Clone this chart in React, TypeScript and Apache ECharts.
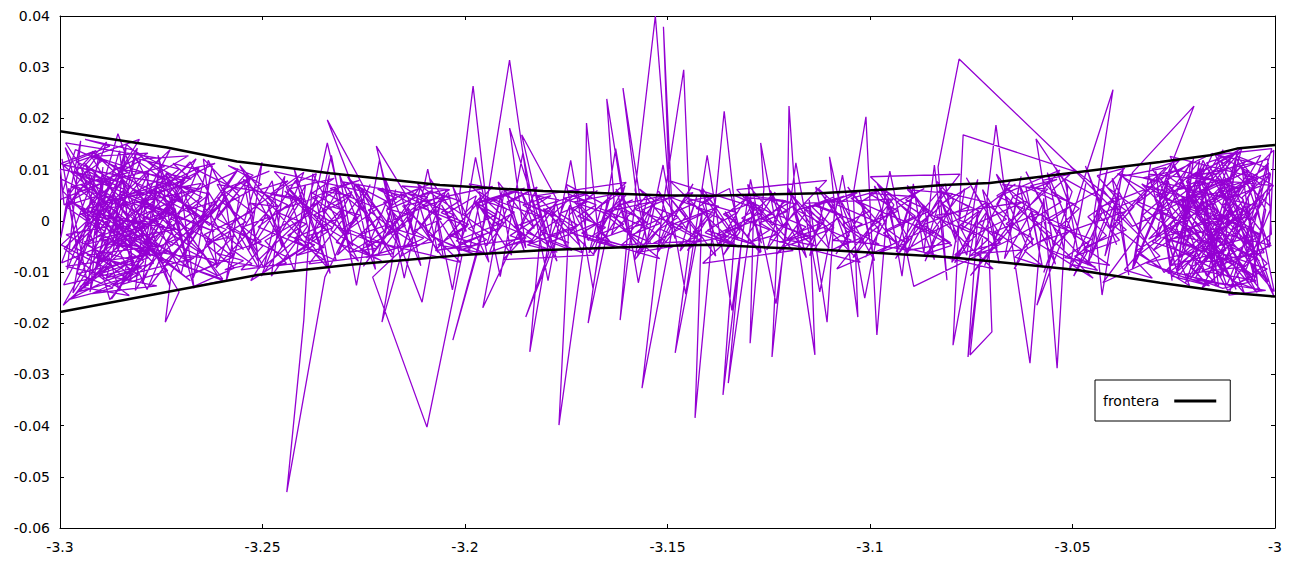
import React, { useEffect, useRef } from "react";
import * as echarts from "echarts";

// Axis ranges and ticks
const xMin = -3.3;
const xMax = -3.0;
const xStep = 0.05;
const yMin = -0.06;
const yMax = 0.04;
const yStep = 0.01;

// Boundary curves ("frontera")
const fronteraUpper: [number, number][] = [
  [-3.3, 0.0175], [-3.2736, 0.0143], [-3.2563, 0.0116], [-3.2333, 0.0093],
  [-3.2062, 0.0070], [-3.1807, 0.0058], [-3.1519, 0.0050], [-3.1395, 0.0049],
  [-3.1123, 0.0054], [-3.0943, 0.0062], [-3.0820, 0.0070], [-3.0704, 0.0074],
  [-3.0489, 0.0095], [-3.0284, 0.0115], [-3.0160, 0.0128], [-3.0094, 0.0141],
  [-3.0, 0.0148],
];
const fronteraLower: [number, number][] = [
  [-3.3, -0.0178], [-3.2736, -0.0139], [-3.2514, -0.0106], [-3.2284, -0.0086],
  [-3.2005, -0.0067], [-3.1798, -0.0057], [-3.1519, -0.0049], [-3.1395, -0.0047],
  [-3.1106, -0.0057], [-3.0802, -0.0071], [-3.0489, -0.0096], [-3.0284, -0.0121],
  [-3.0104, -0.0141], [-3.0, -0.0148],
];

// Trajectory, in the order it was traced
const segA: [number, number][] = [
  [-3.2995, 0.0121], [-3.2952, -0.0083], [-3.2981, 0.0047], [-3.2903, 0.0132], [-3.2968, -0.0141],
  [-3.2872, -0.0022], [-3.2934, 0.0098], [-3.2841, 0.0061], [-3.2990, -0.0054], [-3.2887, -0.0118],
  [-3.2809, 0.0142], [-3.2925, 0.0015], [-3.2776, -0.0069], [-3.2862, 0.0109], [-3.2958, -0.0102],
  [-3.2857, 0.0170], [-3.2793, 0.0033], [-3.2729, -0.0127], [-3.2847, 0.0084], [-3.2917, -0.0031],
  [-3.2754, 0.0122], [-3.2986, 0.0152], [-3.2826, -0.0047], [-3.2701, 0.0058], [-3.2873, -0.0153],
  [-3.2742, -0.0011], [-3.2949, 0.0071], [-3.2681, -0.0092], [-3.2815, 0.0128], [-3.2896, -0.0076],
  [-3.2712, 0.0039], [-3.2992, -0.0165], [-3.2858, 0.0025], [-3.2657, 0.0104], [-3.2785, -0.0134],
  [-3.2939, 0.0112], [-3.2724, -0.0049], [-3.2633, 0.0018], [-3.2836, 0.0149], [-3.2913, -0.0095],
  [-3.2691, 0.0087], [-3.2804, -0.0063], [-3.2970, 0.0036], [-3.2611, -0.0107], [-3.2758, 0.0065],
  [-3.2879, -0.0028], [-3.2664, 0.0121], [-3.2832, -0.0119], [-3.2587, 0.0044], [-3.2745, -0.0083],
  [-3.2955, 0.0093], [-3.2619, -0.0021], [-3.2851, 0.0052], [-3.2706, -0.0139], [-3.2740, -0.0198],
  [-3.2725, -0.0101], [-3.2563, 0.0097], [-3.2798, 0.0011], [-3.2642, -0.0068], [-3.2921, 0.0136],
  [-3.2735, 0.0028], [-3.2598, -0.0114], [-3.2866, -0.0042], [-3.2679, 0.0115], [-3.2547, -0.0056],
  [-3.2769, 0.0079], [-3.2631, -0.0009],
];
const segB: [number, number][] = [
  [-3.2528, 0.0087], [-3.2615, -0.0092], [-3.2472, 0.0031], [-3.2556, 0.0108], [-3.2431, -0.0074],
  [-3.2589, -0.0013], [-3.2398, 0.0095], [-3.2503, -0.0108], [-3.2364, 0.0046], [-3.2467, 0.0019],
  [-3.2340, -0.0091], [-3.2418, 0.0079], [-3.2522, -0.0047], [-3.2312, 0.0063], [-3.2398, -0.0058],
  [-3.2340, 0.0152], [-3.2287, -0.0026], [-3.2445, 0.0058], [-3.2263, -0.0079], [-3.2376, 0.0092],
  [-3.2398, -0.0194], [-3.2440, -0.0530], [-3.2346, -0.0110], [-3.2234, 0.0071], [-3.2315, -0.0067],
  [-3.2206, 0.0012], [-3.2290, 0.0086], [-3.2181, -0.0071], [-3.2265, 0.0041], [-3.2340, 0.0197],
  [-3.2238, 0.0049], [-3.2157, -0.0058], [-3.2219, 0.0146], [-3.2133, 0.0034], [-3.2251, -0.0089],
  [-3.2109, 0.0068], [-3.2205, -0.0198], [-3.2168, -0.0023], [-3.2082, 0.0059], [-3.2194, 0.0021],
  [-3.2106, -0.0159], [-3.2058, 0.0047], [-3.2142, -0.0046], [-3.2228, -0.0110], [-3.2094, -0.0403],
  [-3.2008, -0.0070], [-3.2117, 0.0072], [-3.2005, 0.0011],
];
const segC: [number, number][] = [
  [-3.2013, 0.0052], [-3.1980, 0.0263], [-3.1945, 0.0018], [-3.2030, -0.0233], [-3.1962, -0.0041],
  [-3.1890, 0.0314], [-3.1838, 0.0027], [-3.1956, -0.0170], [-3.1902, 0.0062], [-3.1850, -0.0053],
  [-3.1890, 0.0181], [-3.1812, -0.0009], [-3.1840, -0.0256], [-3.1775, 0.0044], [-3.1860, 0.0168],
  [-3.1793, -0.0062], [-3.1850, -0.0188], [-3.1741, 0.0031], [-3.1768, -0.0399], [-3.1703, -0.0028],
  [-3.1700, 0.0191], [-3.1668, -0.0047], [-3.1696, -0.0200], [-3.1632, 0.0039], [-3.1650, 0.0238],
  [-3.1598, -0.0018], [-3.1617, -0.0194], [-3.1577, 0.0053], [-3.1610, 0.0259], [-3.1552, -0.0036],
  [-3.1580, 0.0060], [-3.1530, 0.0400], [-3.1495, 0.0048], [-3.1510, 0.0379], [-3.1487, -0.0012],
  [-3.1563, -0.0327], [-3.1512, 0.0024], [-3.1460, 0.0295], [-3.1443, -0.0031], [-3.1481, -0.0258],
  [-3.1415, 0.0015], [-3.1432, -0.0385], [-3.1389, -0.0021],
];
const segD: [number, number][] = [
  [-3.1360, 0.0214], [-3.1331, 0.0008], [-3.1363, -0.0340], [-3.1318, -0.0044], [-3.1350, -0.0317],
  [-3.1287, 0.0037], [-3.1296, -0.0239], [-3.1262, 0.0062], [-3.1270, 0.0152], [-3.1228, -0.0025],
  [-3.1242, -0.0266], [-3.1204, 0.0019], [-3.1200, 0.0224], [-3.1176, -0.0051], [-3.1136, -0.0262],
  [-3.1150, 0.0041], [-3.1106, -0.0198], [-3.1087, 0.0028], [-3.1100, 0.0125], [-3.1055, -0.0039],
  [-3.1030, -0.0188], [-3.1041, 0.0054], [-3.1010, 0.0203], [-3.0997, -0.0017], [-3.0983, -0.0223],
  [-3.0955, 0.0046], [-3.0921, -0.0108], [-3.0893, 0.0072], [-3.0867, -0.0062], [-3.0841, 0.0109],
  [-3.0810, -0.0116], [-3.0832, 0.0105], [-3.0780, 0.0316], [-3.0489, 0.0095], [-3.0770, 0.0168],
  [-3.0795, -0.0243], [-3.0733, 0.0021], [-3.0758, -0.0266], [-3.0722, -0.0034], [-3.0753, -0.0262],
  [-3.0699, -0.0217], [-3.0711, 0.0043],
];
const segE: [number, number][] = [
  [-3.0689, 0.0187], [-3.0652, -0.0031], [-3.0605, -0.0278], [-3.0571, 0.0044], [-3.0538, -0.0288],
  [-3.0512, 0.0067], [-3.0590, 0.0160], [-3.0547, -0.0052], [-3.0588, -0.0165], [-3.0493, 0.0029],
  [-3.0400, 0.0256], [-3.0447, 0.0012], [-3.0427, -0.0145], [-3.0381, 0.0078], [-3.0420, -0.0069],
  [-3.0352, 0.0094], [-3.0200, 0.0224], [-3.0286, 0.0049],
];
const segF: [number, number][] = [
  [-3.0258, -0.0082], [-3.0173, 0.0111], [-3.0231, 0.0026], [-3.0127, -0.0104], [-3.0196, 0.0089],
  [-3.0062, -0.0031], [-3.0149, 0.0132], [-3.0008, 0.0071], [-3.0214, -0.0118], [-3.0093, 0.0015],
  [-3.0176, -0.0061], [-3.0035, 0.0128], [-3.0251, 0.0058], [-3.0117, -0.0136], [-3.0019, -0.0084],
  [-3.0162, 0.0037], [-3.0071, 0.0117], [-3.0228, -0.0009], [-3.0044, -0.0112], [-3.0139, 0.0074],
  [-3.0003, -0.0147], [-3.0081, 0.0046],
];
const sweepBack: [number, number][] = [
  [-3.0011, 0.0092], [-3.0058, -0.0118], [-3.0023, 0.0021], [-3.0097, 0.0124], [-3.0152, -0.0073],
  [-3.0076, -0.0141], [-3.0189, 0.0104], [-3.0133, 0.0008], [-3.0241, -0.0096], [-3.0208, 0.0117],
  [-3.0296, -0.0039], [-3.0263, 0.0078], [-3.0352, -0.0094], [-3.0319, 0.0061], [-3.0408, -0.0016],
  [-3.0375, 0.0099], [-3.0463, -0.0087], [-3.0431, 0.0043], [-3.0519, 0.0082], [-3.0486, -0.0064],
  [-3.0575, 0.0013], [-3.0542, -0.0085], [-3.0631, 0.0071], [-3.0598, -0.0047], [-3.0687, 0.0032],
  [-3.0654, 0.0078], [-3.0743, -0.0059], [-3.0709, 0.0021], [-3.0798, -0.0081], [-3.0766, 0.0063],
  [-3.0854, -0.0028], [-3.0821, 0.0057], [-3.0910, -0.0066], [-3.0877, 0.0014], [-3.0966, 0.0061],
  [-3.0933, -0.0045], [-3.1022, 0.0036], [-3.0989, -0.0078], [-3.1078, 0.0048], [-3.1045, -0.0019],
  [-3.1134, 0.0066], [-3.1101, -0.0054], [-3.1190, 0.0027], [-3.1157, -0.0072], [-3.1246, 0.0059],
  [-3.1213, -0.0013], [-3.1302, 0.0071], [-3.1269, -0.0061], [-3.1358, 0.0018], [-3.1325, -0.0038],
  [-3.1414, 0.0064], [-3.1381, -0.0069], [-3.1470, 0.0029], [-3.1437, 0.0072], [-3.1526, -0.0055],
  [-3.1493, 0.0011], [-3.1582, -0.0077], [-3.1549, 0.0051], [-3.1638, -0.0026], [-3.1605, 0.0069],
  [-3.1694, -0.0063], [-3.1661, 0.0034], [-3.1750, 0.0071], [-3.1717, -0.0048], [-3.1806, 0.0024],
  [-3.1773, -0.0079], [-3.1862, 0.0058], [-3.1829, -0.0015], [-3.1918, 0.0076], [-3.1885, -0.0067],
  [-3.1974, 0.0039], [-3.1941, -0.0081], [-3.2030, 0.0067], [-3.1997, -0.0021], [-3.2086, 0.0082],
  [-3.2053, -0.0074], [-3.2142, 0.0027], [-3.2109, -0.0088], [-3.2198, 0.0084], [-3.2165, -0.0032],
  [-3.2254, 0.0063], [-3.2221, -0.0095], [-3.2310, 0.0091], [-3.2277, -0.0049], [-3.2366, 0.0038],
  [-3.2333, -0.0103], [-3.2422, 0.0102], [-3.2389, -0.0011], [-3.2478, -0.0108], [-3.2445, 0.0087],
  [-3.2534, -0.0057], [-3.2501, 0.0114], [-3.2590, -0.0119], [-3.2557, 0.0048], [-3.2646, 0.0121],
  [-3.2613, -0.0086], [-3.2702, 0.0067], [-3.2669, -0.0132], [-3.2758, 0.0128], [-3.2725, -0.0024],
  [-3.2814, -0.0136], [-3.2781, 0.0094], [-3.2870, -0.0049], [-3.2837, 0.0141], [-3.2926, -0.0139],
  [-3.2893, 0.0077], [-3.2982, -0.0095], [-3.2949, 0.0156], [-3.2998, -0.0033],
];
const sweepForward: [number, number][] = [
  [-3.2978, 0.0064], [-3.2931, -0.0127], [-3.2894, 0.0105], [-3.2912, -0.0018], [-3.2853, 0.0137],
  [-3.2819, -0.0096], [-3.2867, 0.0042], [-3.2788, -0.0041], [-3.2752, 0.0113], [-3.2797, -0.0123],
  [-3.2716, 0.0024], [-3.2683, -0.0088], [-3.2739, 0.0091], [-3.2655, -0.0017], [-3.2624, 0.0107],
  [-3.2671, -0.0112], [-3.2593, 0.0052], [-3.2571, -0.0071], [-3.2628, 0.0013], [-3.2539, 0.0093],
  [-3.2508, -0.0094], [-3.2557, -0.0028], [-3.2476, 0.0078], [-3.2452, -0.0051], [-3.2489, 0.0036],
  [-3.2421, -0.0098], [-3.2394, 0.0069], [-3.2437, 0.0008], [-3.2362, -0.0063], [-3.2335, 0.0089],
  [-3.2378, -0.0037], [-3.2306, 0.0021], [-3.2279, -0.0082], [-3.2321, 0.0064], [-3.2248, 0.0017],
  [-3.2226, -0.0059], [-3.2264, 0.0072], [-3.2197, -0.0024], [-3.2171, 0.0061], [-3.2215, -0.0068],
  [-3.2143, 0.0008], [-3.2118, -0.0049], [-3.2159, 0.0053], [-3.2092, 0.0027], [-3.2067, -0.0062],
  [-3.2104, -0.0007], [-3.2041, 0.0055], [-3.2016, -0.0033], [-3.2058, 0.0031], [-3.1989, -0.0058],
  [-3.1962, 0.0046], [-3.2004, 0.0012], [-3.1935, -0.0027], [-3.1908, 0.0058], [-3.1947, -0.0049],
  [-3.1881, 0.0019], [-3.1853, -0.0061], [-3.1896, 0.0037], [-3.1827, 0.0064], [-3.1801, -0.0022],
  [-3.1842, -0.0046], [-3.1774, 0.0033], [-3.1748, -0.0054], [-3.1786, 0.0011], [-3.1722, 0.0057],
  [-3.1695, -0.0039], [-3.1737, 0.0026], [-3.1668, -0.0012], [-3.1641, 0.0048], [-3.1683, -0.0066],
  [-3.1614, 0.0019], [-3.1588, -0.0043], [-3.1627, 0.0062], [-3.1561, -0.0008], [-3.1534, 0.0039],
  [-3.1575, -0.0071], [-3.1507, 0.0024], [-3.1481, -0.0035], [-3.1522, 0.0058], [-3.1454, -0.0015],
  [-3.1428, 0.0047], [-3.1469, -0.0059], [-3.1401, 0.0011], [-3.1374, -0.0048], [-3.1415, 0.0036],
  [-3.1347, 0.0063], [-3.1321, -0.0021], [-3.1362, -0.0067], [-3.1294, 0.0028], [-3.1268, -0.0044],
  [-3.1309, 0.0052], [-3.1241, -0.0009], [-3.1214, 0.0041], [-3.1255, -0.0057], [-3.1187, 0.0017],
  [-3.1161, -0.0036], [-3.1202, 0.0064], [-3.1134, -0.0024], [-3.1108, 0.0049], [-3.1149, -0.0068],
  [-3.1081, 0.0006], [-3.1054, -0.0052], [-3.1095, 0.0037], [-3.1027, 0.0059], [-3.1001, -0.0031],
  [-3.1042, -0.0072], [-3.0974, 0.0022], [-3.0948, -0.0047], [-3.0989, 0.0068], [-3.0921, -0.0013],
  [-3.0894, 0.0054], [-3.0935, -0.0061], [-3.0867, 0.0031], [-3.0841, -0.0076], [-3.0882, 0.0009],
  [-3.0814, 0.0072], [-3.0787, -0.0042], [-3.0828, 0.0046], [-3.0761, -0.0067], [-3.0734, 0.0081],
  [-3.0775, -0.0019], [-3.0707, 0.0035], [-3.0681, -0.0083], [-3.0722, 0.0061], [-3.0654, -0.0028],
  [-3.0627, 0.0087], [-3.0668, -0.0074], [-3.0601, 0.0019], [-3.0574, -0.0091], [-3.0615, 0.0066],
  [-3.0547, 0.0041], [-3.0521, -0.0058], [-3.0562, 0.0094], [-3.0494, -0.0036], [-3.0467, 0.0073],
  [-3.0508, -0.0097], [-3.0441, 0.0012], [-3.0414, 0.0101], [-3.0455, -0.0072], [-3.0387, 0.0048],
  [-3.0361, -0.0106], [-3.0402, 0.0083], [-3.0334, -0.0023], [-3.0307, 0.0112], [-3.0348, -0.0089],
  [-3.0281, 0.0035], [-3.0254, -0.0117], [-3.0295, 0.0097], [-3.0227, -0.0047], [-3.0201, 0.0124],
  [-3.0242, -0.0101], [-3.0174, 0.0058], [-3.0147, -0.0128], [-3.0188, 0.0082], [-3.0121, -0.0016],
  [-3.0094, 0.0133], [-3.0135, -0.0112], [-3.0067, 0.0047], [-3.0041, -0.0137], [-3.0082, 0.0106],
  [-3.0014, -0.0052], [-3.0003, 0.0138],
];
const segF2: [number, number][] = [
  [-3.0031, 0.0116], [-3.0112, -0.0043], [-3.0064, -0.0121], [-3.0187, 0.0067], [-3.0128, 0.0139],
  [-3.0236, -0.0072], [-3.0046, 0.0029], [-3.0169, -0.0108], [-3.0271, 0.0091], [-3.0088, -0.0012],
  [-3.0205, 0.0043], [-3.0017, -0.0119], [-3.0144, 0.0102], [-3.0312, -0.0036], [-3.0073, 0.0068],
  [-3.0221, -0.0121], [-3.0109, 0.0123], [-3.0287, 0.0018], [-3.0038, -0.0078], [-3.0158, -0.0024],
  [-3.0251, 0.0107], [-3.0096, -0.0134], [-3.0193, 0.0028], [-3.0012, 0.0094], [-3.0133, -0.0089],
  [-3.0329, 0.0072], [-3.0061, -0.0047], [-3.0178, 0.0118], [-3.0264, -0.0103], [-3.0027, 0.0052],
  [-3.0119, -0.0126], [-3.0216, 0.0083], [-3.0084, 0.0136], [-3.0301, -0.0058], [-3.0153, 0.0011],
  [-3.0044, -0.0141], [-3.0240, 0.0039], [-3.0106, 0.0087], [-3.0352, -0.0011], [-3.0427, 0.0063],
  [-3.0650, -0.0035],
];
const segJ: [number, number][] = [
  [-3.0892, -0.0128], [-3.0951, 0.0097], [-3.1013, -0.0151], [-3.1068, 0.0089], [-3.1124, -0.0139],
  [-3.1183, 0.0113], [-3.1232, -0.0162], [-3.1295, 0.0081], [-3.1341, -0.0175], [-3.1402, 0.0128],
  [-3.1455, -0.0143], [-3.1511, 0.0109], [-3.1572, -0.0121], [-3.1628, 0.0141], [-3.1684, -0.0132],
  [-3.1739, 0.0118], [-3.1795, -0.0117], [-3.1857, 0.0133], [-3.1913, -0.0109], [-3.1974, 0.0124],
  [-3.2031, -0.0135], [-3.2092, 0.0101], [-3.2150, -0.0112], [-3.2211, 0.0119], [-3.2268, -0.0126],
  [-3.2330, 0.0128], [-3.2355, 0.0041],
];
const segA2: [number, number][] = [
  [-3.2512, -0.0078], [-3.2634, 0.0118], [-3.2701, -0.0104], [-3.2789, 0.0047], [-3.2853, -0.0137],
  [-3.2947, 0.0101], [-3.2885, 0.0154], [-3.2996, -0.0082], [-3.2812, -0.0021], [-3.2924, 0.0128],
  [-3.2744, 0.0082], [-3.2968, -0.0149], [-3.2861, -0.0063], [-3.2728, 0.0139], [-3.2897, 0.0012],
  [-3.2678, -0.0117], [-3.2953, 0.0062], [-3.2836, 0.0111], [-3.2991, -0.0125], [-3.2769, -0.0083],
  [-3.2905, 0.0036], [-3.2651, 0.0073], [-3.2877, -0.0154], [-3.2987, 0.0143], [-3.2822, -0.0108],
  [-3.2940, -0.0041], [-3.2717, 0.0024], [-3.2959, 0.0115], [-3.2804, 0.0159], [-3.2974, -0.0061],
  [-3.2848, 0.0075], [-3.2999, 0.0101],
];
const sweepWide: [number, number][] = [
  [-3.2990, 0.0031], [-3.2801, 0.0118], [-3.2917, -0.0106], [-3.2702, -0.0032], [-3.2855, 0.0089],
  [-3.2638, 0.0014], [-3.2779, -0.0128], [-3.2560, 0.0102], [-3.2698, -0.0066], [-3.2497, -0.0091],
  [-3.2612, 0.0071], [-3.2403, 0.0043], [-3.2529, -0.0117], [-3.2338, -0.0021], [-3.2471, 0.0096],
  [-3.2249, 0.0057], [-3.2385, -0.0084], [-3.2178, -0.0064], [-3.2301, 0.0076], [-3.2092, 0.0046],
  [-3.2233, -0.0039], [-3.2011, -0.0081], [-3.2154, 0.0029], [-3.1932, 0.0067], [-3.2073, -0.0058],
  [-3.1849, -0.0034], [-3.1990, 0.0072], [-3.1768, 0.0041], [-3.1906, -0.0076], [-3.1681, -0.0067],
  [-3.1822, 0.0049], [-3.1602, 0.0075], [-3.1741, -0.0023], [-3.1519, -0.0074], [-3.1660, 0.0016],
  [-3.1437, 0.0055], [-3.1577, -0.0062], [-3.1352, -0.0031], [-3.1494, 0.0078], [-3.1271, 0.0023],
  [-3.1413, -0.0083], [-3.1190, -0.0058], [-3.1329, 0.0061], [-3.1107, 0.0079], [-3.1248, -0.0036],
  [-3.1024, -0.0081], [-3.1164, 0.0034], [-3.0943, 0.0043], [-3.1082, -0.0094], [-3.0861, -0.0017],
  [-3.0999, 0.0086], [-3.0778, 0.0091], [-3.0917, -0.0052], [-3.0696, -0.0094], [-3.0836, 0.0011],
  [-3.0612, 0.0038], [-3.0752, -0.0107], [-3.0531, 0.0099], [-3.0670, 0.0052], [-3.0449, -0.0112],
  [-3.0588, -0.0043], [-3.0367, 0.0019], [-3.0506, 0.0107], [-3.0284, -0.0069], [-3.0425, -0.0121],
  [-3.0203, 0.0117], [-3.0342, 0.0034], [-3.0121, -0.0097], [-3.0259, 0.0126], [-3.0042, 0.0083],
  [-3.0180, -0.0131], [-3.0009, -0.0026],
];
const segF3: [number, number][] = [
  [-3.0018, 0.0121], [-3.0084, 0.0102], [-3.0032, 0.0069], [-3.0116, 0.0043], [-3.0061, 0.0011],
  [-3.0153, -0.0021], [-3.0009, -0.0048], [-3.0097, -0.0076], [-3.0181, -0.0098], [-3.0047, -0.0117],
  [-3.0129, -0.0132], [-3.0223, -0.0104], [-3.0072, -0.0089], [-3.0168, -0.0061], [-3.0263, -0.0037],
  [-3.0112, -0.0009], [-3.0206, 0.0022], [-3.0294, 0.0051], [-3.0141, 0.0078], [-3.0239, 0.0099],
  [-3.0327, 0.0084], [-3.0186, 0.0057], [-3.0058, 0.0031], [-3.0172, -0.0004], [-3.0278, -0.0033],
  [-3.0124, -0.0066], [-3.0019, -0.0094], [-3.0104, -0.0127], [-3.0217, -0.0113], [-3.0318, -0.0082],
  [-3.0157, -0.0053], [-3.0036, -0.0026], [-3.0135, 0.0008], [-3.0249, 0.0037], [-3.0089, 0.0064],
  [-3.0196, 0.0088], [-3.0052, 0.0113], [-3.0147, 0.0129], [-3.0008, 0.0141], [-3.0114, -0.0145],
  [-3.0023, -0.0136], [-3.0167, -0.0118], [-3.0286, -0.0092], [-3.0341, -0.0058],
];
const walkBack: [number, number][] = [
  [-3.0021, 0.0104], [-3.0093, 0.0126], [-3.0052, 0.0083], [-3.0138, 0.0061], [-3.0087, 0.0022],
  [-3.0176, -0.0013], [-3.0121, -0.0054], [-3.0209, -0.0091], [-3.0162, -0.0127], [-3.0254, -0.0108],
  [-3.0198, -0.0069], [-3.0303, -0.0041], [-3.0245, 0.0006], [-3.0341, 0.0038], [-3.0287, 0.0079],
  [-3.0389, 0.0092], [-3.0322, 0.0061], [-3.0431, 0.0027], [-3.0367, -0.0018], [-3.0472, -0.0052],
  [-3.0408, -0.0087], [-3.0519, -0.0072], [-3.0453, -0.0036], [-3.0561, -0.0004], [-3.0497, 0.0033],
  [-3.0604, 0.0068], [-3.0538, 0.0081], [-3.0649, 0.0047], [-3.0583, 0.0015], [-3.0692, -0.0021],
  [-3.0624, -0.0057], [-3.0738, -0.0064], [-3.0669, -0.0031], [-3.0781, 0.0002], [-3.0712, 0.0036],
  [-3.0827, 0.0058], [-3.0756, 0.0027], [-3.0869, -0.0008], [-3.0801, -0.0043], [-3.0915, -0.0059],
  [-3.0843, -0.0024], [-3.0958, 0.0013], [-3.0889, 0.0047], [-3.1003, 0.0054], [-3.0931, 0.0019],
  [-3.1046, -0.0017], [-3.0977, -0.0046], [-3.1092, -0.0038], [-3.1019, -0.0006], [-3.1135, 0.0029],
  [-3.1064, 0.0048], [-3.1181, 0.0021], [-3.1107, -0.0011], [-3.1224, -0.0042], [-3.1152, -0.0029],
  [-3.1269, 0.0004], [-3.1196, 0.0037], [-3.1313, 0.0046], [-3.1241, 0.0013], [-3.1358, -0.0021],
  [-3.1284, -0.0047], [-3.1402, -0.0019], [-3.1329, 0.0016], [-3.1446, 0.0043], [-3.1373, 0.0028],
  [-3.1491, -0.0008], [-3.1417, -0.0039], [-3.1535, -0.0044], [-3.1462, -0.0012], [-3.1579, 0.0022],
  [-3.1506, 0.0049], [-3.1624, 0.0031], [-3.1551, -0.0003], [-3.1668, -0.0036], [-3.1594, -0.0052],
  [-3.1712, -0.0024], [-3.1639, 0.0011], [-3.1757, 0.0044], [-3.1683, 0.0057], [-3.1801, 0.0023],
  [-3.1727, -0.0014], [-3.1846, -0.0047], [-3.1772, -0.0061], [-3.1889, -0.0029], [-3.1816, 0.0008],
  [-3.1934, 0.0043], [-3.1861, 0.0062], [-3.1978, 0.0034], [-3.1905, -0.0003], [-3.2022, -0.0039],
  [-3.1949, -0.0064], [-3.2067, -0.0047], [-3.1994, -0.0011], [-3.2111, 0.0027], [-3.2038, 0.0061],
  [-3.2156, 0.0068], [-3.2083, 0.0033], [-3.2199, -0.0006], [-3.2127, -0.0043], [-3.2244, -0.0072],
  [-3.2172, -0.0054], [-3.2288, -0.0017], [-3.2216, 0.0024], [-3.2333, 0.0063], [-3.2261, 0.0079],
  [-3.2377, 0.0046], [-3.2305, 0.0007], [-3.2422, -0.0034], [-3.2349, -0.0076], [-3.2466, -0.0088],
  [-3.2394, -0.0051], [-3.2511, -0.0012], [-3.2438, 0.0031], [-3.2555, 0.0074], [-3.2483, 0.0097],
  [-3.2599, 0.0061], [-3.2527, 0.0018], [-3.2644, -0.0027], [-3.2572, -0.0071], [-3.2688, -0.0109],
  [-3.2616, -0.0084], [-3.2733, -0.0039], [-3.2661, 0.0008], [-3.2777, 0.0057], [-3.2705, 0.0101],
  [-3.2822, 0.0124], [-3.2749, 0.0083], [-3.2866, 0.0036], [-3.2794, -0.0013], [-3.2911, -0.0066],
  [-3.2838, -0.0112], [-3.2955, -0.0139], [-3.2883, -0.0094], [-3.2997, -0.0047], [-3.2927, 0.0004],
  [-3.2993, 0.0058],
];
const segA3: [number, number][] = [
  [-3.2962, 0.0139], [-3.2897, 0.0117], [-3.2948, 0.0086], [-3.2871, 0.0072], [-3.2929, 0.0028],
  [-3.2846, -0.0006], [-3.2985, -0.0027], [-3.2905, -0.0059], [-3.2817, -0.0078], [-3.2958, -0.0103],
  [-3.2869, -0.0131], [-3.2979, -0.0154], [-3.2892, -0.0119], [-3.2798, -0.0092], [-3.2934, -0.0067],
  [-3.2755, -0.0049], [-3.2881, -0.0019], [-3.2726, 0.0011], [-3.2859, 0.0043], [-3.2974, 0.0066],
  [-3.2831, 0.0094], [-3.2917, 0.0126], [-3.2783, 0.0132], [-3.2858, 0.0102], [-3.2691, 0.0079],
  [-3.2812, 0.0051], [-3.2946, 0.0021], [-3.2774, -0.0008], [-3.2903, -0.0036], [-3.2735, -0.0061],
  [-3.2986, -0.0089], [-3.2845, -0.0114], [-3.2761, -0.0127], [-3.2921, -0.0142], [-3.2809, -0.0101],
  [-3.2669, -0.0073], [-3.2887, -0.0044], [-3.2713, -0.0016], [-3.2952, 0.0013], [-3.2796, 0.0038],
  [-3.2655, 0.0062], [-3.2843, 0.0087], [-3.2991, 0.0109], [-3.2877, 0.0146], [-3.2938, 0.0159],
  [-3.2823, 0.0139], [-3.2742, 0.0106], [-3.2897, 0.0074], [-3.2998, 0.0042],
];
const walkForward: [number, number][] = [
  [-3.2998, 0.0082], [-3.2951, 0.0064], [-3.2979, 0.0031], [-3.2912, 0.0047], [-3.2946, 0.0012],
  [-3.2889, -0.0021], [-3.2937, -0.0046], [-3.2868, -0.0033], [-3.2903, -0.0071], [-3.2841, -0.0088],
  [-3.2886, -0.0112], [-3.2822, -0.0097], [-3.2871, -0.0128], [-3.2806, -0.0106], [-3.2849, -0.0081],
  [-3.2779, -0.0064], [-3.2826, -0.0037], [-3.2761, -0.0052], [-3.2803, -0.0018], [-3.2744, 0.0007],
  [-3.2792, 0.0029], [-3.2719, 0.0018], [-3.2758, 0.0054], [-3.2697, 0.0071], [-3.2739, 0.0093],
  [-3.2676, 0.0081], [-3.2721, 0.0112], [-3.2653, 0.0098], [-3.2704, 0.0067], [-3.2631, 0.0052],
  [-3.2677, 0.0023], [-3.2612, 0.0039], [-3.2658, 0.0004], [-3.2589, -0.0017], [-3.2636, -0.0042],
  [-3.2568, -0.0029], [-3.2614, -0.0063], [-3.2547, -0.0078], [-3.2593, -0.0096], [-3.2526, -0.0084],
  [-3.2571, -0.0059], [-3.2503, -0.0041], [-3.2548, -0.0012], [-3.2481, 0.0008], [-3.2527, 0.0034],
  [-3.2459, 0.0027], [-3.2506, 0.0061], [-3.2437, 0.0078], [-3.2481, 0.0052], [-3.2414, 0.0041],
  [-3.2462, 0.0016], [-3.2392, -0.0006], [-3.2438, -0.0029], [-3.2371, -0.0047], [-3.2417, -0.0068],
  [-3.2348, -0.0052], [-3.2394, -0.0031], [-3.2326, -0.0014], [-3.2372, 0.0012], [-3.2303, 0.0036],
  [-3.2351, 0.0058], [-3.2281, 0.0049], [-3.2327, 0.0027], [-3.2259, 0.0011], [-3.2306, -0.0018],
  [-3.2237, -0.0039], [-3.2283, -0.0061], [-3.2214, -0.0053], [-3.2261, -0.0027], [-3.2192, -0.0008],
  [-3.2239, 0.0021], [-3.2169, 0.0043], [-3.2216, 0.0062], [-3.2147, 0.0047], [-3.2193, 0.0024],
  [-3.2125, 0.0009], [-3.2172, -0.0016], [-3.2102, -0.0034], [-3.2148, -0.0052], [-3.2081, -0.0041],
  [-3.2126, -0.0019], [-3.2058, 0.0003], [-3.2104, 0.0028], [-3.2036, 0.0044], [-3.2082, 0.0057],
  [-3.2013, 0.0039], [-3.2059, 0.0016], [-3.1991, -0.0007], [-3.2037, -0.0029], [-3.1968, -0.0046],
  [-3.2014, -0.0058], [-3.1946, -0.0037], [-3.1992, -0.0015], [-3.1923, 0.0012], [-3.1969, 0.0034],
  [-3.1901, 0.0051], [-3.1947, 0.0038], [-3.1878, 0.0017], [-3.1924, -0.0004], [-3.1856, -0.0026],
  [-3.1902, -0.0049], [-3.1833, -0.0038], [-3.1879, -0.0012], [-3.1811, 0.0008], [-3.1857, 0.0031],
  [-3.1788, 0.0049], [-3.1834, 0.0027], [-3.1766, 0.0006], [-3.1812, -0.0021], [-3.1743, -0.0043],
  [-3.1789, -0.0028], [-3.1721, -0.0009], [-3.1767, 0.0014], [-3.1698, 0.0037], [-3.1744, 0.0052],
  [-3.1676, 0.0031], [-3.1722, 0.0009], [-3.1653, -0.0013], [-3.1699, -0.0036], [-3.1631, -0.0051],
  [-3.1677, -0.0029], [-3.1608, -0.0007], [-3.1654, 0.0018], [-3.1586, 0.0041], [-3.1632, 0.0026],
  [-3.1563, 0.0004], [-3.1609, -0.0019], [-3.1541, -0.0042], [-3.1587, -0.0027], [-3.1518, -0.0005],
  [-3.1564, 0.0021], [-3.1496, 0.0044], [-3.1542, 0.0029], [-3.1473, 0.0007], [-3.1519, -0.0016],
  [-3.1451, -0.0039], [-3.1497, -0.0054], [-3.1428, -0.0031], [-3.1474, -0.0009], [-3.1406, 0.0016],
  [-3.1452, 0.0038], [-3.1383, 0.0049], [-3.1429, 0.0024], [-3.1361, 0.0002], [-3.1407, -0.0023],
  [-3.1338, -0.0045], [-3.1384, -0.0032], [-3.1316, -0.0011], [-3.1362, 0.0013], [-3.1293, 0.0035],
  [-3.1339, 0.0051], [-3.1271, 0.0028], [-3.1317, 0.0005], [-3.1248, -0.0018], [-3.1294, -0.0041],
  [-3.1226, -0.0026], [-3.1272, -0.0004], [-3.1203, 0.0019], [-3.1249, 0.0042], [-3.1181, 0.0033],
  [-3.1227, 0.0011], [-3.1158, -0.0012], [-3.1204, -0.0037], [-3.1136, -0.0049], [-3.1182, -0.0024],
  [-3.1113, -0.0002], [-3.1159, 0.0023], [-3.1091, 0.0046], [-3.1137, 0.0032], [-3.1068, 0.0011],
  [-3.1114, -0.0014], [-3.1046, -0.0038], [-3.1092, -0.0056], [-3.1023, -0.0034], [-3.1069, -0.0008],
  [-3.1001, 0.0019], [-3.1047, 0.0044], [-3.0978, 0.0059], [-3.1024, 0.0036], [-3.0956, 0.0012],
  [-3.1002, -0.0015], [-3.0933, -0.0041], [-3.0979, -0.0062], [-3.0911, -0.0044], [-3.0957, -0.0017],
  [-3.0888, 0.0009], [-3.0934, 0.0037], [-3.0866, 0.0063], [-3.0912, 0.0041], [-3.0843, 0.0016],
  [-3.0889, -0.0011], [-3.0821, -0.0039], [-3.0867, -0.0066], [-3.0798, -0.0048], [-3.0844, -0.0021],
  [-3.0776, 0.0006], [-3.0822, 0.0034], [-3.0753, 0.0067], [-3.0799, 0.0045], [-3.0731, 0.0019],
  [-3.0777, -0.0008], [-3.0708, -0.0036], [-3.0754, -0.0069], [-3.0686, -0.0052], [-3.0732, -0.0024],
  [-3.0663, 0.0003], [-3.0709, 0.0031], [-3.0641, 0.0072], [-3.0687, 0.0049], [-3.0618, 0.0022],
  [-3.0664, -0.0006], [-3.0596, -0.0035], [-3.0642, -0.0071], [-3.0573, -0.0089], [-3.0619, -0.0058],
  [-3.0551, -0.0027], [-3.0597, 0.0004], [-3.0528, 0.0037], [-3.0574, 0.0079], [-3.0506, 0.0091],
  [-3.0552, 0.0058], [-3.0483, 0.0024], [-3.0529, -0.0009], [-3.0461, -0.0046], [-3.0507, -0.0084],
  [-3.0438, -0.0097], [-3.0484, -0.0063], [-3.0416, -0.0029], [-3.0462, 0.0008], [-3.0393, 0.0046],
  [-3.0439, 0.0088], [-3.0371, 0.0103], [-3.0417, 0.0067], [-3.0348, 0.0028], [-3.0394, -0.0012],
  [-3.0326, -0.0054], [-3.0372, -0.0096], [-3.0303, -0.0112], [-3.0349, -0.0074], [-3.0281, -0.0033],
  [-3.0327, 0.0011], [-3.0258, 0.0057], [-3.0304, 0.0101], [-3.0236, 0.0118], [-3.0282, 0.0079],
  [-3.0213, 0.0036], [-3.0259, -0.0009], [-3.0191, -0.0058], [-3.0237, -0.0107], [-3.0168, -0.0124],
  [-3.0214, -0.0083], [-3.0146, -0.0038], [-3.0192, 0.0007], [-3.0123, 0.0062], [-3.0169, 0.0113],
  [-3.0101, 0.0131], [-3.0147, 0.0088], [-3.0078, 0.0041], [-3.0124, -0.0005], [-3.0056, -0.0061],
  [-3.0102, -0.0118], [-3.0033, -0.0138], [-3.0079, -0.0092], [-3.0011, -0.0044], [-3.0057, 0.0003],
  [-3.0004, 0.0069],
];
const segF4: [number, number][] = [
  [-3.0312, 0.0091], [-3.0237, -0.0112], [-3.0284, 0.0021], [-3.0186, 0.0117], [-3.0228, -0.0052],
  [-3.0139, -0.0129], [-3.0174, 0.0064], [-3.0092, 0.0137], [-3.0147, -0.0018], [-3.0048, -0.0121],
  [-3.0103, 0.0049], [-3.0016, 0.0113], [-3.0071, -0.0074], [-3.0002, -0.0138], [-3.0058, 0.0086],
  [-3.0131, 0.0028], [-3.0038, -0.0029], [-3.0163, -0.0093], [-3.0082, 0.0142], [-3.0219, 0.0077],
  [-3.0121, -0.0058], [-3.0259, -0.0088], [-3.0177, 0.0103], [-3.0297, 0.0044], [-3.0211, -0.0127],
  [-3.0334, -0.0066], [-3.0246, 0.0121], [-3.0362, 0.0018], [-3.0274, -0.0101], [-3.0188, -0.0034],
  [-3.0307, 0.0074], [-3.0153, 0.0132], [-3.0263, -0.0047], [-3.0107, -0.0113], [-3.0229, 0.0036],
  [-3.0064, 0.0098], [-3.0198, -0.0083], [-3.0027, -0.0062], [-3.0135, 0.0118], [-3.0009, 0.0027],
];
const walkReturn: [number, number][] = [
  [-3.0075, -0.0102], [-3.0141, -0.0067], [-3.0098, -0.0129], [-3.0196, -0.0111], [-3.0152, -0.0048],
  [-3.0257, -0.0022], [-3.0208, 0.0043], [-3.0318, 0.0068], [-3.0269, 0.0104], [-3.0377, 0.0087],
  [-3.0327, 0.0046], [-3.0436, 0.0012], [-3.0384, -0.0038], [-3.0495, -0.0069], [-3.0443, -0.0091],
  [-3.0556, -0.0057], [-3.0502, -0.0016], [-3.0614, 0.0024], [-3.0561, 0.0062], [-3.0673, 0.0071],
  [-3.0619, 0.0038], [-3.0732, -0.0004], [-3.0678, -0.0043], [-3.0791, -0.0067], [-3.0737, -0.0028],
  [-3.0849, 0.0011], [-3.0796, 0.0053], [-3.0908, 0.0061], [-3.0854, 0.0019], [-3.0967, -0.0024],
  [-3.0913, -0.0057], [-3.1026, -0.0041], [-3.0972, -0.0006], [-3.1084, 0.0032], [-3.1031, 0.0055],
  [-3.1143, 0.0027], [-3.1089, -0.0014], [-3.1202, -0.0048], [-3.1148, -0.0033], [-3.1261, 0.0003],
  [-3.1207, 0.0039], [-3.1319, 0.0052], [-3.1266, 0.0017], [-3.1378, -0.0026], [-3.1324, -0.0051],
  [-3.1437, -0.0022], [-3.1383, 0.0014], [-3.1496, 0.0047], [-3.1442, 0.0031], [-3.1554, -0.0009],
  [-3.1501, -0.0043], [-3.1613, -0.0047], [-3.1559, -0.0011], [-3.1672, 0.0026], [-3.1618, 0.0054],
  [-3.1731, 0.0037], [-3.1677, -0.0005], [-3.1789, -0.0041], [-3.1736, -0.0058], [-3.1848, -0.0023],
  [-3.1794, 0.0016], [-3.1907, 0.0051], [-3.1853, 0.0064], [-3.1966, 0.0028], [-3.1912, -0.0013],
  [-3.2024, -0.0052], [-3.1971, -0.0067], [-3.2083, -0.0031], [-3.2029, 0.0012], [-3.2142, 0.0053],
  [-3.2088, 0.0071], [-3.2201, 0.0036], [-3.2147, -0.0009], [-3.2259, -0.0057], [-3.2206, -0.0078],
  [-3.2318, -0.0042], [-3.2264, 0.0006], [-3.2377, 0.0054], [-3.2323, 0.0083], [-3.2436, 0.0062],
  [-3.2382, 0.0013], [-3.2494, -0.0039], [-3.2441, -0.0083], [-3.2553, -0.0096], [-3.2499, -0.0049],
  [-3.2612, 0.0004], [-3.2558, 0.0059], [-3.2671, 0.0103], [-3.2617, 0.0112], [-3.2729, 0.0068],
  [-3.2676, 0.0014], [-3.2788, -0.0042], [-3.2734, -0.0098], [-3.2847, -0.0124], [-3.2793, -0.0079],
  [-3.2906, -0.0021], [-3.2852, 0.0037], [-3.2964, 0.0094], [-3.2911, 0.0137], [-3.2997, 0.0112],
];
const segA4: [number, number][] = [
  [-3.2938, 0.0072], [-3.2982, 0.0026], [-3.2914, -0.0011], [-3.2966, -0.0052], [-3.2873, -0.0086],
  [-3.2951, -0.0129], [-3.2829, -0.0146], [-3.2903, -0.0104], [-3.2781, -0.0072], [-3.2868, -0.0031],
  [-3.2742, 0.0006], [-3.2834, 0.0049], [-3.2708, 0.0083], [-3.2796, 0.0121], [-3.2683, 0.0127],
  [-3.2762, 0.0091], [-3.2649, 0.0046], [-3.2727, 0.0004], [-3.2623, -0.0041], [-3.2694, -0.0088],
  [-3.2597, -0.0117], [-3.2672, -0.0129], [-3.2569, -0.0092], [-3.2638, -0.0047], [-3.2541, -0.0002],
  [-3.2611, 0.0044], [-3.2523, 0.0089], [-3.2585, 0.0108], [-3.2502, 0.0071],
];
const walkMiddle: [number, number][] = [
  [-3.2588, 0.0034], [-3.2512, -0.0062], [-3.2547, 0.0081], [-3.2463, 0.0018], [-3.2496, -0.0089],
  [-3.2402, -0.0027], [-3.2441, 0.0066], [-3.2367, 0.0092], [-3.2419, -0.0041], [-3.2318, -0.0078],
  [-3.2352, 0.0023], [-3.2279, 0.0057], [-3.2331, -0.0019], [-3.2236, -0.0064], [-3.2274, 0.0071],
  [-3.2193, 0.0038], [-3.2241, -0.0052], [-3.2162, -0.0011], [-3.2205, 0.0064], [-3.2121, 0.0029],
  [-3.2158, -0.0069], [-3.2087, -0.0035], [-3.2119, 0.0048], [-3.2046, 0.0061], [-3.2091, -0.0026],
  [-3.2008, -0.0058], [-3.2044, 0.0015], [-3.1972, 0.0049], [-3.2012, -0.0044], [-3.1934, -0.0021],
  [-3.1966, 0.0057], [-3.1897, 0.0023], [-3.1939, -0.0061], [-3.1861, -0.0039], [-3.1894, 0.0034],
  [-3.1822, 0.0066], [-3.1863, -0.0009], [-3.1785, -0.0053], [-3.1818, 0.0027], [-3.1749, 0.0044],
  [-3.1791, -0.0037], [-3.1711, -0.0062], [-3.1744, 0.0011], [-3.1673, 0.0059], [-3.1716, 0.0032],
  [-3.1638, -0.0044], [-3.1671, -0.0018], [-3.1602, 0.0051], [-3.1643, 0.0021], [-3.1564, -0.0057],
  [-3.1597, -0.0026], [-3.1528, 0.0037], [-3.1569, 0.0062], [-3.1491, -0.0014], [-3.1524, -0.0061],
  [-3.1455, 0.0008], [-3.1496, 0.0047], [-3.1417, -0.0033], [-3.1451, -0.0058], [-3.1381, 0.0029],
  [-3.1422, 0.0061], [-3.1344, -0.0024], [-3.1377, -0.0049], [-3.1308, 0.0042], [-3.1349, 0.0017],
  [-3.1271, -0.0063], [-3.1304, -0.0031], [-3.1234, 0.0056], [-3.1275, 0.0026], [-3.1197, -0.0041],
  [-3.1231, -0.0066], [-3.1161, 0.0013], [-3.1202, 0.0058], [-3.1124, -0.0009], [-3.1157, -0.0054],
  [-3.1087, 0.0034], [-3.1128, 0.0063], [-3.1051, -0.0028], [-3.1084, -0.0065], [-3.1014, 0.0024],
  [-3.1055, 0.0066], [-3.0977, -0.0019], [-3.1011, -0.0071], [-3.0941, 0.0031], [-3.0982, 0.0072],
  [-3.0904, -0.0036], [-3.0937, -0.0074], [-3.0867, 0.0019], [-3.0908, 0.0069], [-3.0831, -0.0011],
  [-3.0864, -0.0079], [-3.0794, 0.0041], [-3.0835, 0.0077], [-3.0757, -0.0044], [-3.0791, -0.0082],
  [-3.0721, 0.0026], [-3.0762, 0.0084], [-3.0684, -0.0021], [-3.0717, -0.0088], [-3.0647, 0.0048],
  [-3.0688, 0.0091], [-3.0611, -0.0053], [-3.0644, -0.0094], [-3.0574, 0.0033], [-3.0615, 0.0096],
  [-3.0537, -0.0028], [-3.0571, -0.0101], [-3.0501, 0.0057], [-3.0542, 0.0104], [-3.0464, -0.0062],
  [-3.0497, -0.0108], [-3.0427, 0.0016], [-3.0468, 0.0107], [-3.0391, -0.0047],
];

const trayectoria = [
  ...segA, ...segB, ...segC, ...segD, ...segE, ...segF,
  ...sweepBack, ...sweepForward, ...segF2, ...segJ, ...segA2, ...sweepWide,
  ...segF3, ...walkBack, ...segA3, ...walkForward,
  ...segF4, ...walkReturn, ...segA4, ...walkMiddle,
];

const FONT = "DejaVu Sans";
const tickFmt = (digits: number) => (v: number) => String(parseFloat(v.toFixed(digits)));

export default function App() {
  const ref = useRef<HTMLDivElement>(null);

  useEffect(() => {
    if (!ref.current) return;
    const chart = echarts.init(ref.current, undefined, { renderer: "svg" });
    const axisLine = { show: true, onZero: false, lineStyle: { color: "#000", width: 1 } };
    const axisTick = { show: true, inside: true, length: 4, lineStyle: { color: "#000", width: 1 } };
    chart.setOption({
      animation: false,
      backgroundColor: "#fff",
      grid: { left: 60, right: 18, top: 16, bottom: 34, containLabel: false },
      legend: {
        data: ["frontera"],
        left: 1095,
        top: 380,
        align: "right",
        orient: "vertical",
        borderColor: "#000",
        borderWidth: 1,
        borderRadius: 0,
        padding: [14, 14, 13, 8],
        itemWidth: 42,
        itemHeight: 3,
        icon: "rect",
        textStyle: { fontFamily: FONT, fontSize: 14, color: "#000", padding: [0, 10, 0, 0] },
        selectedMode: false,
      },
      xAxis: [
        {
          type: "value", min: xMin, max: xMax, interval: xStep,
          axisLine, axisTick, splitLine: { show: false },
          axisLabel: { fontFamily: FONT, fontSize: 14, color: "#000", margin: 12, formatter: tickFmt(2) },
        },
        {
          type: "value", position: "top", min: xMin, max: xMax, interval: xStep,
          axisLine, axisTick, splitLine: { show: false }, axisLabel: { show: false },
        },
      ],
      yAxis: [
        {
          type: "value", min: yMin, max: yMax, interval: yStep,
          axisLine, axisTick, splitLine: { show: false },
          axisLabel: { fontFamily: FONT, fontSize: 14, color: "#000", margin: 10, formatter: tickFmt(3) },
        },
        {
          type: "value", position: "right", min: yMin, max: yMax, interval: yStep,
          axisLine, axisTick, splitLine: { show: false }, axisLabel: { show: false },
        },
      ],
      series: [
        {
          name: "trayectoria",
          type: "line",
          data: trayectoria,
          showSymbol: false,
          symbol: "none",
          clip: true,
          lineStyle: { color: "#9400d3", width: 1.3 },
          itemStyle: { color: "#9400d3" },
          emphasis: { disabled: true },
        },
        {
          name: "frontera",
          type: "line",
          data: fronteraUpper,
          symbol: "none",
          lineStyle: { color: "#000", width: 2.5 },
          itemStyle: { color: "#000" },
          emphasis: { disabled: true },
        },
        {
          name: "frontera",
          type: "line",
          data: fronteraLower,
          symbol: "none",
          lineStyle: { color: "#000", width: 2.5 },
          itemStyle: { color: "#000" },
          emphasis: { disabled: true },
        },
      ],
    });
    return () => chart.dispose();
  }, []);

  return (
    <div
      ref={ref}
      style={{ position: "fixed", left: 0, top: 0, width: 1293, height: 562, background: "#fff" }}
    />
  );
}
